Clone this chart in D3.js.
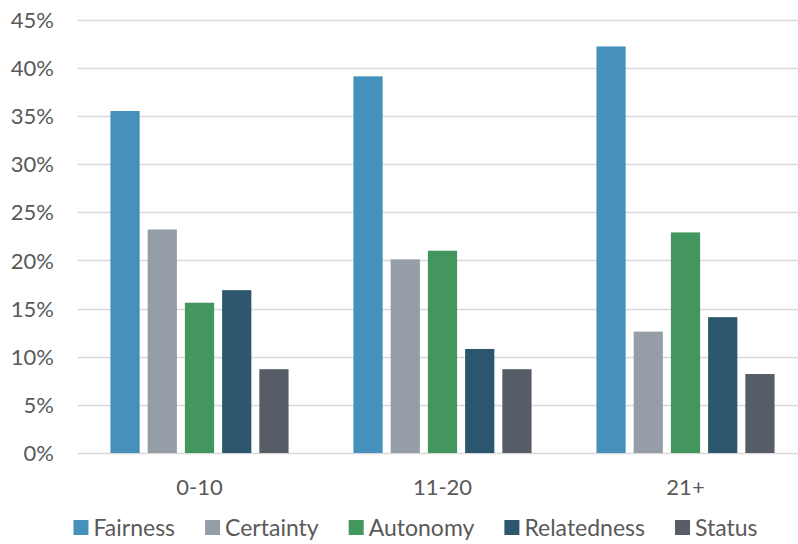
<!DOCTYPE html>
<html>
<head>
<meta charset="utf-8">
<script src="https://cdn.jsdelivr.net/npm/d3@7"></script>
<style>
  html, body { margin: 0; padding: 0; background: #fff; }
  svg { display: block; }
  text { font-family: Lato, "Open Sans", sans-serif; fill: #595959; }
</style>
</head>
<body>
<svg id="chart" width="798" height="544"></svg>
<script>
const categories = ["0-10", "11-20", "21+"];
const seriesNames = ["Fairness", "Certainty", "Autonomy", "Relatedness", "Status"];
const fairness    = [35.5, 39.1, 42.2];
const certainty   = [23.2, 20.1, 12.6];
const autonomy    = [15.6, 21.0, 22.9];
const relatedness = [16.9, 10.8, 14.1];
const status      = [8.7, 8.7, 8.2];
const yTicks = [0, 5, 10, 15, 20, 25, 30, 35, 40, 45];
const colors = ["#4591bb", "#959da6", "#44965f", "#2b566e", "#565d66"];

const seriesValues = [fairness, certainty, autonomy, relatedness, status];

(function draw() {
const svg = d3.select("#chart");
const pLeft = 78, pRight = 807, pTop = 19.5, pBottom = 453;

const x0 = d3.scaleBand().domain(categories).range([pLeft, pRight])
  .paddingInner(0.267).paddingOuter(0.1335);
const x1 = d3.scaleBand().domain(seriesNames).range([0, x0.bandwidth()])
  .paddingInner(0.215).paddingOuter(0);
const y = d3.scaleLinear().domain([0, 45]).range([pBottom, pTop]);

// gridlines
svg.append("g").selectAll("line").data(yTicks).join("line")
  .attr("x1", pLeft).attr("x2", 798)
  .attr("y1", d => Math.round(y(d)) + 0.5).attr("y2", d => Math.round(y(d)) + 0.5)
  .attr("stroke", "#d9d9d9").attr("stroke-width", 1.3);

// y axis labels
const yAxis = d3.axisLeft(y).tickValues(yTicks).tickFormat(d => d + "%").tickSize(0).tickPadding(0);
const ya = svg.append("g").attr("transform", "translate(54,0)").call(yAxis);
ya.select(".domain").remove();
ya.selectAll("text").style("font-size", "22px").attr("fill", "#595959")
  .style("font-family", "Lato, sans-serif").attr("dy", "0.35em");

// bars
const groups = svg.append("g").selectAll("g").data(categories).join("g")
  .attr("transform", d => `translate(${x0(d)},0)`);
groups.selectAll("rect")
  .data((c, ci) => seriesNames.map((s, si) => ({ s, si, v: seriesValues[si][ci] })))
  .join("rect")
  .attr("x", d => x1(d.s))
  .attr("width", x1.bandwidth())
  .attr("y", d => y(d.v))
  .attr("height", d => y(0) - y(d.v))
  .attr("fill", d => colors[d.si]);

// x axis labels
const xAxis = d3.axisBottom(x0).tickSize(0).tickPadding(0);
const xa = svg.append("g").attr("transform", `translate(0,${pBottom + 34})`).call(xAxis);
xa.select(".domain").remove();
xa.selectAll("text").style("font-size", "22px").attr("fill", "#595959")
  .style("font-family", "Lato, sans-serif").attr("dy", "0.35em");

// legend
const legend = svg.append("g").attr("transform", "translate(0,528)");
const items = legend.selectAll("g").data(seriesNames).join("g");
items.append("rect").attr("width", 15).attr("height", 15).attr("y", -8)
  .attr("fill", (d, i) => colors[i]);
items.append("text").attr("x", 20).attr("dy", "0.35em")
  .style("font-size", "23px").text(d => d);
let widths = [];
items.each(function() { widths.push(20 + d3.select(this).select("text").node().getComputedTextLength()); });
const gap = 30;
const total = d3.sum(widths) + gap * (widths.length - 1);
let cx = 415.5 - total / 2;
items.each(function(d, i) {
  d3.select(this).attr("transform", `translate(${cx},0)`);
  cx += widths[i] + gap;
});
})();
</script>
</body>
</html>
